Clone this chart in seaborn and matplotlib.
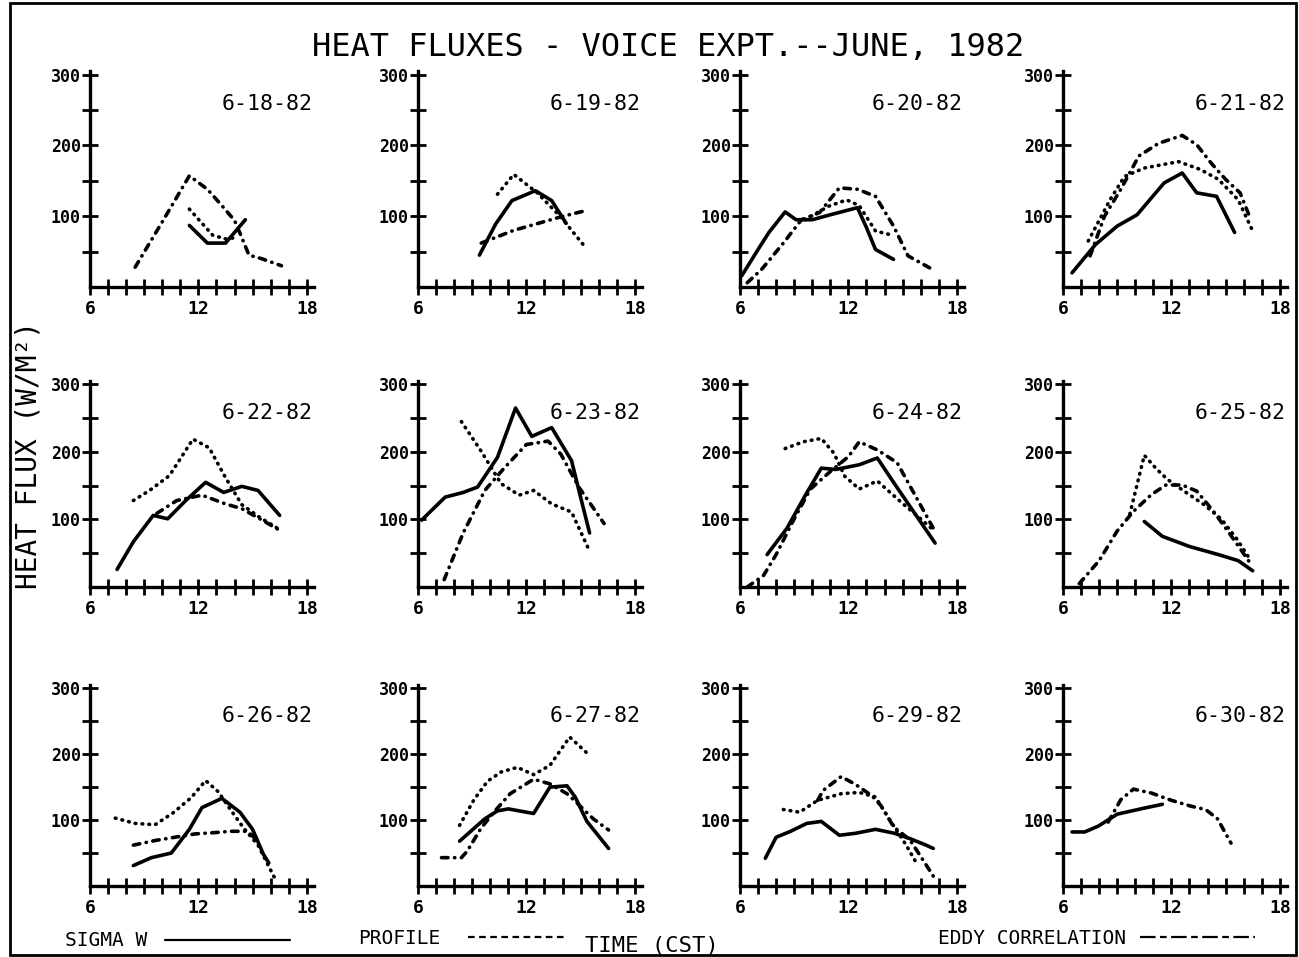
import matplotlib
matplotlib.use("Agg")
import matplotlib.pyplot as plt
import seaborn as sns
import pandas as pd
from matplotlib.lines import Line2D
from matplotlib.patches import Rectangle

# ---------------- data (hour CST, heat flux W/m^2) ----------------
DATES = ["6-18-82", "6-19-82", "6-20-82", "6-21-82",
         "6-22-82", "6-23-82", "6-24-82", "6-25-82",
         "6-26-82", "6-27-82", "6-29-82", "6-30-82"]

# Sigma W (solid)
sw18_h = [11.5, 12.5, 13.5, 14.6];                      sw18_q = [87, 62, 62, 95]
sw19_h = [9.4, 10.3, 11.2, 12.5, 13.4, 14.2];            sw19_q = [45, 89, 122, 136, 122, 90]
sw20_h = [6.1, 7.0, 7.6, 8.5, 9.1, 10.0, 11.0, 12.5, 13.0, 13.5, 14.5]
sw20_q = [16, 53, 77, 106, 95, 95, 102, 112, 84, 53, 39]
sw21_h = [6.5, 7.8, 9.0, 10.1, 11.6, 12.6, 13.4, 14.5, 15.5]
sw21_q = [20, 60, 86, 102, 147, 161, 133, 128, 77]
sw22_h = [7.5, 8.4, 9.5, 10.3, 11.3, 12.4, 13.4, 14.4, 15.3, 16.5]
sw22_q = [26, 67, 106, 101, 128, 155, 140, 149, 143, 106]
sw23_h = [6.2, 7.5, 8.5, 9.3, 10.4, 11.4, 12.3, 13.4, 14.5, 15.0, 15.5]
sw23_q = [99, 133, 140, 148, 192, 265, 223, 236, 187, 133, 80]
sw24_h = [7.5, 8.6, 9.6, 10.5, 11.3, 12.6, 13.6, 14.5, 15.75, 16.8]
sw24_q = [48, 87, 135, 176, 174, 181, 191, 155, 106, 65]
sw25_h = [10.5, 11.5, 13.0, 14.6, 15.7, 16.5];           sw25_q = [97, 75, 60, 48, 39, 24]
sw26_h = [8.4, 9.4, 10.5, 11.5, 12.2, 13.3, 14.3, 15.0, 15.6, 15.9]
sw26_q = [31, 43, 50, 86, 119, 133, 112, 86, 48, 35]
sw27_h = [8.3, 9.7, 10.4, 11.0, 12.4, 13.3, 14.25, 14.7, 15.35, 16.55]
sw27_q = [68, 102, 114, 117, 110, 150, 152, 135, 98, 57]
sw29_h = [7.4, 8.0, 8.8, 9.7, 10.5, 11.5, 12.4, 13.5, 14.55, 15.4, 16.3, 16.7]
sw29_q = [42, 74, 83, 95, 98, 77, 80, 86, 80, 72, 62, 57]
sw30_h = [6.5, 7.2, 7.96, 9.0, 10.3, 11.5];              sw30_q = [82, 82, 91, 109, 117, 124]

# Profile (dotted)
pr18_h = [11.5, 12.2, 12.8, 13.5, 14.2];                 pr18_q = [110, 90, 73, 68, 70]
pr19_h = [10.4, 11.3, 12.6, 13.9, 15.3];                 pr19_q = [131, 159, 133, 99, 55]
pr20_h = [9.6, 10.9, 11.9, 12.6, 13.5, 14.3];            pr20_q = [95, 114, 123, 115, 79, 74]
pr21_h = [7.4, 8.6, 9.4, 10.5, 12.4, 13.6, 14.6, 15.7, 16.5]
pr21_q = [65, 123, 156, 168, 177, 166, 152, 123, 79]
pr22_h = [8.4, 9.3, 10.4, 11.7, 12.6, 13.5, 14.4, 15.4, 16.5]
pr22_q = [128, 143, 165, 219, 206, 162, 122, 103, 85]
pr23_h = [8.4, 9.5, 10.6, 11.6, 12.4, 13.4, 14.5, 15.5]
pr23_q = [245, 201, 153, 136, 143, 123, 111, 53]
pr24_h = [8.5, 9.5, 10.5, 11.2, 11.8, 12.6, 13.6, 14.9, 16.0, 16.8]
pr24_q = [205, 215, 220, 198, 164, 145, 157, 126, 101, 82]
pr25_h = [9.7, 10.5, 11.2, 11.8, 12.7, 13.8, 14.75, 15.6, 16.4]
pr25_q = [108, 195, 174, 159, 142, 122, 101, 72, 39]
pr26_h = [7.4, 8.5, 9.6, 10.6, 11.6, 12.4, 13.1, 13.8, 14.5, 15.3, 15.8, 16.3]
pr26_q = [103, 95, 93, 111, 134, 160, 143, 115, 88, 62, 35, 8]
pr27_h = [8.3, 9.1, 9.85, 10.6, 11.5, 12.4, 13.3, 14.4, 15.5]
pr27_q = [92, 131, 159, 173, 180, 169, 183, 226, 198]
pr29_h = [8.4, 9.3, 10.3, 11.6, 12.6, 13.5, 14.3, 15.2, 15.7]
pr29_q = [116, 112, 130, 140, 142, 135, 100, 62, 38]
pr30_h = [];                                             pr30_q = []

# Eddy correlation (dash-dot)
ec18_h = [8.5, 10.0, 11.5, 12.5, 13.4, 14.0, 14.4, 14.8, 15.5, 16.6]
ec18_q = [28, 92, 157, 138, 112, 94, 70, 45, 40, 30]
ec19_h = [9.5, 11.3, 13.9, 15.3];                        ec19_q = [62, 80, 99, 108]
ec20_h = [6.4, 7.2, 8.4, 9.4, 10.4, 11.5, 12.5, 13.5, 14.5, 15.3, 16.5]
ec20_q = [6, 25, 62, 95, 105, 140, 138, 128, 86, 44, 27]
ec21_h = [7.5, 8.3, 9.2, 10.2, 11.3, 12.6, 13.4, 14.2, 15.0, 15.8, 16.4]
ec21_q = [44, 100, 138, 185, 203, 214, 201, 175, 152, 133, 95]
ec22_h = [9.7, 10.8, 12.2, 13.5, 14.4, 15.4, 16.5];       ec22_q = [109, 128, 136, 123, 116, 101, 84]
ec23_h = [7.45, 8.5, 9.7, 10.8, 12.0, 13.2, 13.9, 14.9, 16.3]
ec23_q = [11, 80, 143, 177, 211, 216, 197, 148, 94]
ec24_h = [6.4, 7.3, 8.0, 9.0, 9.9, 11.0, 12.0, 12.6, 13.6, 14.7, 15.4, 16.7]
ec24_q = [0, 17, 48, 101, 145, 171, 193, 215, 203, 184, 150, 87]
ec25_h = [6.9, 8.0, 9.0, 9.9, 10.9, 11.7, 12.6, 13.4, 14.3, 15.2, 16.4]
ec25_q = [5, 39, 83, 112, 137, 151, 151, 142, 113, 80, 34]
ec26_h = [8.4, 9.6, 10.7, 11.8, 12.9, 13.8, 14.7, 15.2];  ec26_q = [62, 69, 74, 79, 81, 83, 83, 71]
ec27_h = [7.3, 8.4, 8.7, 9.5, 10.2, 11.1, 12.4, 13.3, 14.25, 14.8, 15.7, 16.55]
ec27_q = [43, 43, 52, 88, 112, 140, 162, 155, 140, 126, 102, 85]
ec29_h = [10.3, 10.6, 11.6, 12.4, 13.3, 13.8, 14.5, 15.4, 16.0, 16.7]
ec29_q = [130, 145, 166, 154, 137, 122, 90, 70, 45, 15]
ec30_h = [8.5, 9.2, 9.9, 10.9, 12.0, 13.1, 13.9, 14.55, 15.3]
ec30_q = [97, 131, 147, 141, 130, 121, 116, 102, 65]

SIGMA = [(sw18_h, sw18_q), (sw19_h, sw19_q), (sw20_h, sw20_q), (sw21_h, sw21_q),
         (sw22_h, sw22_q), (sw23_h, sw23_q), (sw24_h, sw24_q), (sw25_h, sw25_q),
         (sw26_h, sw26_q), (sw27_h, sw27_q), (sw29_h, sw29_q), (sw30_h, sw30_q)]
PROFILE = [(pr18_h, pr18_q), (pr19_h, pr19_q), (pr20_h, pr20_q), (pr21_h, pr21_q),
           (pr22_h, pr22_q), (pr23_h, pr23_q), (pr24_h, pr24_q), (pr25_h, pr25_q),
           (pr26_h, pr26_q), (pr27_h, pr27_q), (pr29_h, pr29_q), (pr30_h, pr30_q)]
EDDY = [(ec18_h, ec18_q), (ec19_h, ec19_q), (ec20_h, ec20_q), (ec21_h, ec21_q),
        (ec22_h, ec22_q), (ec23_h, ec23_q), (ec24_h, ec24_q), (ec25_h, ec25_q),
        (ec26_h, ec26_q), (ec27_h, ec27_q), (ec29_h, ec29_q), (ec30_h, ec30_q)]

X_TICKS = list(range(6, 19))
X_LABELS = {6: "6", 12: "12", 18: "18"}
Y_TICKS = [50, 100, 150, 200, 250, 300]
Y_LABELS = {100: "100", 200: "200", 300: "300"}

# ---------------- styling ----------------
sns.set_theme(style="ticks")
plt.rcParams["font.family"] = ["DejaVu Sans Mono", "DejaVu Sans"]

W, H = 1299, 957
fig = plt.figure(figsize=(W / 100, H / 100), dpi=100)
fig.patch.set_facecolor("white")

def fx(x):
    return x / W

def fy(y):
    return 1 - y / H

LW = 2.6
STYLE_SOLID = dict(linestyle="-", solid_capstyle="round", solid_joinstyle="round")
STYLE_DOT = dict(linestyle=(0, (0.2, 1.7)), dash_capstyle="round")
STYLE_DASHDOT = dict(linestyle=(0, (1.8, 1.8, 0.1, 1.8)), dash_capstyle="round")

col_left = [90, 418, 740, 1063]
row_bottom = [287, 587, 886]
row_height = [216, 206, 201]
ax_width = 224
XMAX, YMAX = 18.4, 305

for i, date in enumerate(DATES):
    r, c = divmod(i, 4)
    left = col_left[c]
    bottom = row_bottom[r]
    h = row_height[r]
    ax = fig.add_axes([fx(left), fy(bottom), fx(ax_width), h / H])
    ax.set_facecolor("white")
    for series, st in ((SIGMA, STYLE_SOLID), (PROFILE, STYLE_DOT), (EDDY, STYLE_DASHDOT)):
        hh, qq = series[i]
        if len(hh) == 0:
            continue
        df = pd.DataFrame({"hour": hh, "flux": qq})
        sns.lineplot(data=df, x="hour", y="flux", ax=ax, color="black", lw=LW,
                     estimator=None, sort=False, **st)
    ax.set_xlim(6, XMAX)
    ax.set_ylim(0, YMAX)
    ax.set_xticks(X_TICKS)
    ax.set_xticklabels([X_LABELS.get(t, "") for t in X_TICKS])
    ax.set_yticks(Y_TICKS)
    ax.set_yticklabels([Y_LABELS.get(t, "") for t in Y_TICKS])
    ax.tick_params(axis="both", direction="inout", length=11, width=2.0, color="black",
                   labelsize=12, labelcolor="black")
    ax.tick_params(axis="x", pad=4, labelsize=13)
    ax.tick_params(axis="y", pad=1)
    for lab in ax.get_xticklabels() + ax.get_yticklabels():
        lab.set_fontweight("bold")
    for s in ("top", "right"):
        ax.spines[s].set_visible(False)
    for s in ("left", "bottom"):
        ax.spines[s].set_linewidth(2.4)
        ax.spines[s].set_color("black")
    ax.set_xlabel("")
    ax.set_ylabel("")
    ax.text(18.3, 258, date, ha="right", va="center", fontsize=15.5, color="black")

# title & axis labels
fig.text(fx(668), fy(47), "HEAT FLUXES - VOICE EXPT.--JUNE, 1982", ha="center", va="center",
         fontsize=23, color="black")
fig.text(fx(29), fy(455), "HEAT FLUX (W/M²)", ha="center", va="center", rotation=90,
         fontsize=20, color="black")

# bottom legend
fig.text(fx(65), fy(940), "SIGMA W", ha="left", va="center", fontsize=14, color="black")
fig.add_artist(Line2D([fx(165), fx(290)], [fy(940), fy(940)], color="black", lw=1.6,
                      transform=fig.transFigure))
fig.text(fx(358), fy(938), "PROFILE", ha="left", va="center", fontsize=14, color="black")
fig.add_artist(Line2D([fx(468), fx(568)], [fy(937), fy(937)], color="black", lw=1.6,
                      linestyle=(0, (3, 2)), transform=fig.transFigure))
fig.text(fx(585), fy(946), "TIME (CST)", ha="left", va="center", fontsize=16, color="black")
fig.text(fx(938), fy(938), "EDDY CORRELATION", ha="left", va="center", fontsize=14, color="black")
fig.add_artist(Line2D([fx(1140), fx(1255)], [fy(937), fy(937)], color="black", lw=1.6,
                      linestyle=(0, (7, 2, 3, 2)), transform=fig.transFigure))

# page frame
fig.add_artist(Rectangle((fx(10), fy(955)), fx(1286), (955 - 3) / H, fill=False,
                         edgecolor="black", lw=2.0, transform=fig.transFigure))

fig.savefig("out.png", dpi=100, facecolor="white")
